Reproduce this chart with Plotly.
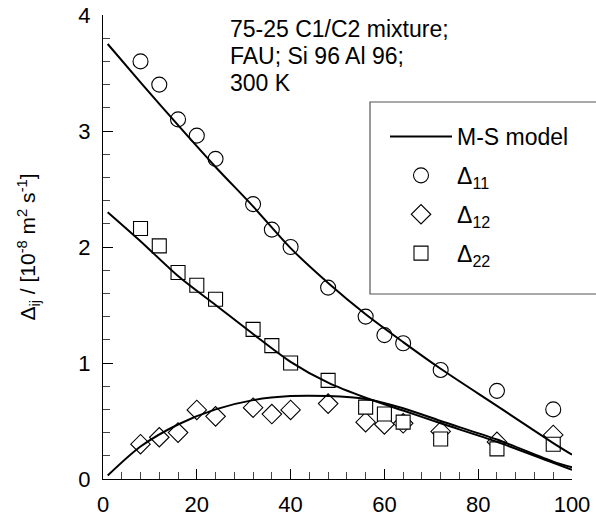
import plotly.graph_objects as go

# Loading of component 1 (x axis)
loading = [8, 12, 16, 20, 24, 32, 36, 40, 48, 56, 60, 64, 72, 84, 96]

# Simulated diffusivities, 1e-8 m2/s
d11_sim = [3.60, 3.40, 3.10, 2.96, 2.76, 2.37, 2.15, 2.00, 1.65, 1.40, 1.24, 1.17, 0.94, 0.76, 0.60]
d12_sim = [0.30, 0.36, 0.40, 0.595, 0.54, 0.615, 0.56, 0.595, 0.65, 0.49, 0.47, 0.48, 0.41, 0.32, 0.38]
d22_sim = [2.16, 2.01, 1.78, 1.67, 1.55, 1.29, 1.15, 1.00, 0.85, 0.62, 0.56, 0.49, 0.345, 0.26, 0.30]

# Maxwell-Stefan model predictions
model_x = [1, 8, 16, 24, 32, 40, 48, 56, 64, 72, 84, 96, 100]
d11_model = [3.75, 3.42, 3.05, 2.69, 2.35, 1.99, 1.69, 1.42, 1.18, 0.95, 0.63, 0.31, 0.21]
d12_model = [0.03, 0.28, 0.47, 0.60, 0.68, 0.715, 0.715, 0.69, 0.61, 0.50, 0.34, 0.15, 0.10]
d22_model = [2.30, 2.05, 1.75, 1.50, 1.25, 1.01, 0.83, 0.70, 0.59, 0.48, 0.32, 0.14, 0.08]

FONT = "Arial, Liberation Sans, sans-serif"
W, H = 596, 522
L, R, T, B = 103, 24, 15, 43
PW, PH = W - L - R, H - T - B


def px_x(p):
    return (p - L) / PW


def px_y(p):
    return (H - B - p) / PH


fig = go.Figure()

marker_line = dict(color="black", width=1.1)

fig.add_trace(go.Scatter(
    x=loading, y=d12_sim, mode="markers", name="Δ<sub>12</sub>",
    marker=dict(symbol="diamond", size=15, color="white", line=marker_line),
    legendgroup="d12", legendrank=3, cliponaxis=False))
fig.add_trace(go.Scatter(
    x=loading, y=d11_sim, mode="markers", name="Δ<sub>11</sub>",
    marker=dict(symbol="circle", size=15, color="white", line=marker_line),
    legendgroup="d11", legendrank=2, cliponaxis=False))
fig.add_trace(go.Scatter(
    x=loading, y=d22_sim, mode="markers", name="Δ<sub>22</sub>",
    marker=dict(symbol="square", size=14, color="white", line=marker_line),
    legendgroup="d22", legendrank=4, cliponaxis=False))

line_style = dict(color="black", width=2, shape="spline", smoothing=0.8)
for i, ys in enumerate([d11_model, d12_model, d22_model]):
    fig.add_trace(go.Scatter(
        x=model_x, y=ys, mode="lines", name="M-S model",
        line=line_style, legendgroup="model", legendrank=1,
        showlegend=(i == 0)))

axis_common = dict(
    showline=True, linecolor="black", linewidth=1,
    ticks="inside", ticklen=10, tickwidth=1, tickcolor="black",
    showgrid=False, zeroline=False, mirror=False,
    tickfont=dict(family=FONT, size=22, color="black"),
)

fig.update_xaxes(
    range=[0, 100], dtick=20, tick0=0, ticklabelstandoff=6,
    minor=dict(ticks="inside", dtick=4, ticklen=7, tickcolor="#444", tickwidth=1),
    **axis_common)
fig.update_yaxes(
    range=[0, 4], dtick=1, tick0=0, ticklabelstandoff=7,
    minor=dict(ticks="inside", dtick=0.2, ticklen=7, tickcolor="#444", tickwidth=1),
    title=dict(text="Δ<sub>ij</sub> / [10<sup>-8</sup> m<sup>2</sup> s<sup>-1</sup>]",
               font=dict(family=FONT, size=21, color="black"), standoff=36),
    **axis_common)

# Legend frame
fig.add_shape(type="rect", xref="paper", yref="paper",
              x0=px_x(370), x1=px_x(620), y0=px_y(294), y1=px_y(102),
              line=dict(color="#555", width=1.2), fillcolor="rgba(0,0,0,0)")

# Condition labels
for text, yc in [("75-25 C1/C2 mixture;", 29), ("FAU; Si 96 Al 96;", 56), ("300 K", 83)]:
    fig.add_annotation(text=text, xref="paper", yref="paper",
                       x=px_x(228), y=px_y(yc), xanchor="left", yanchor="middle",
                       showarrow=False, font=dict(family=FONT, size=23, color="black"))

fig.update_layout(
    width=W, height=H,
    margin=dict(l=L, r=R, t=T, b=B, autoexpand=False),
    paper_bgcolor="white", plot_bgcolor="white",
    showlegend=True,
    legend=dict(x=px_x(385), y=px_y(115), xanchor="left", yanchor="top",
                bgcolor="rgba(0,0,0,0)", borderwidth=0,
                font=dict(family=FONT, size=23, color="black"),
                tracegroupgap=6, itemwidth=62, traceorder="grouped"),
)

fig.write_html("out.html")
